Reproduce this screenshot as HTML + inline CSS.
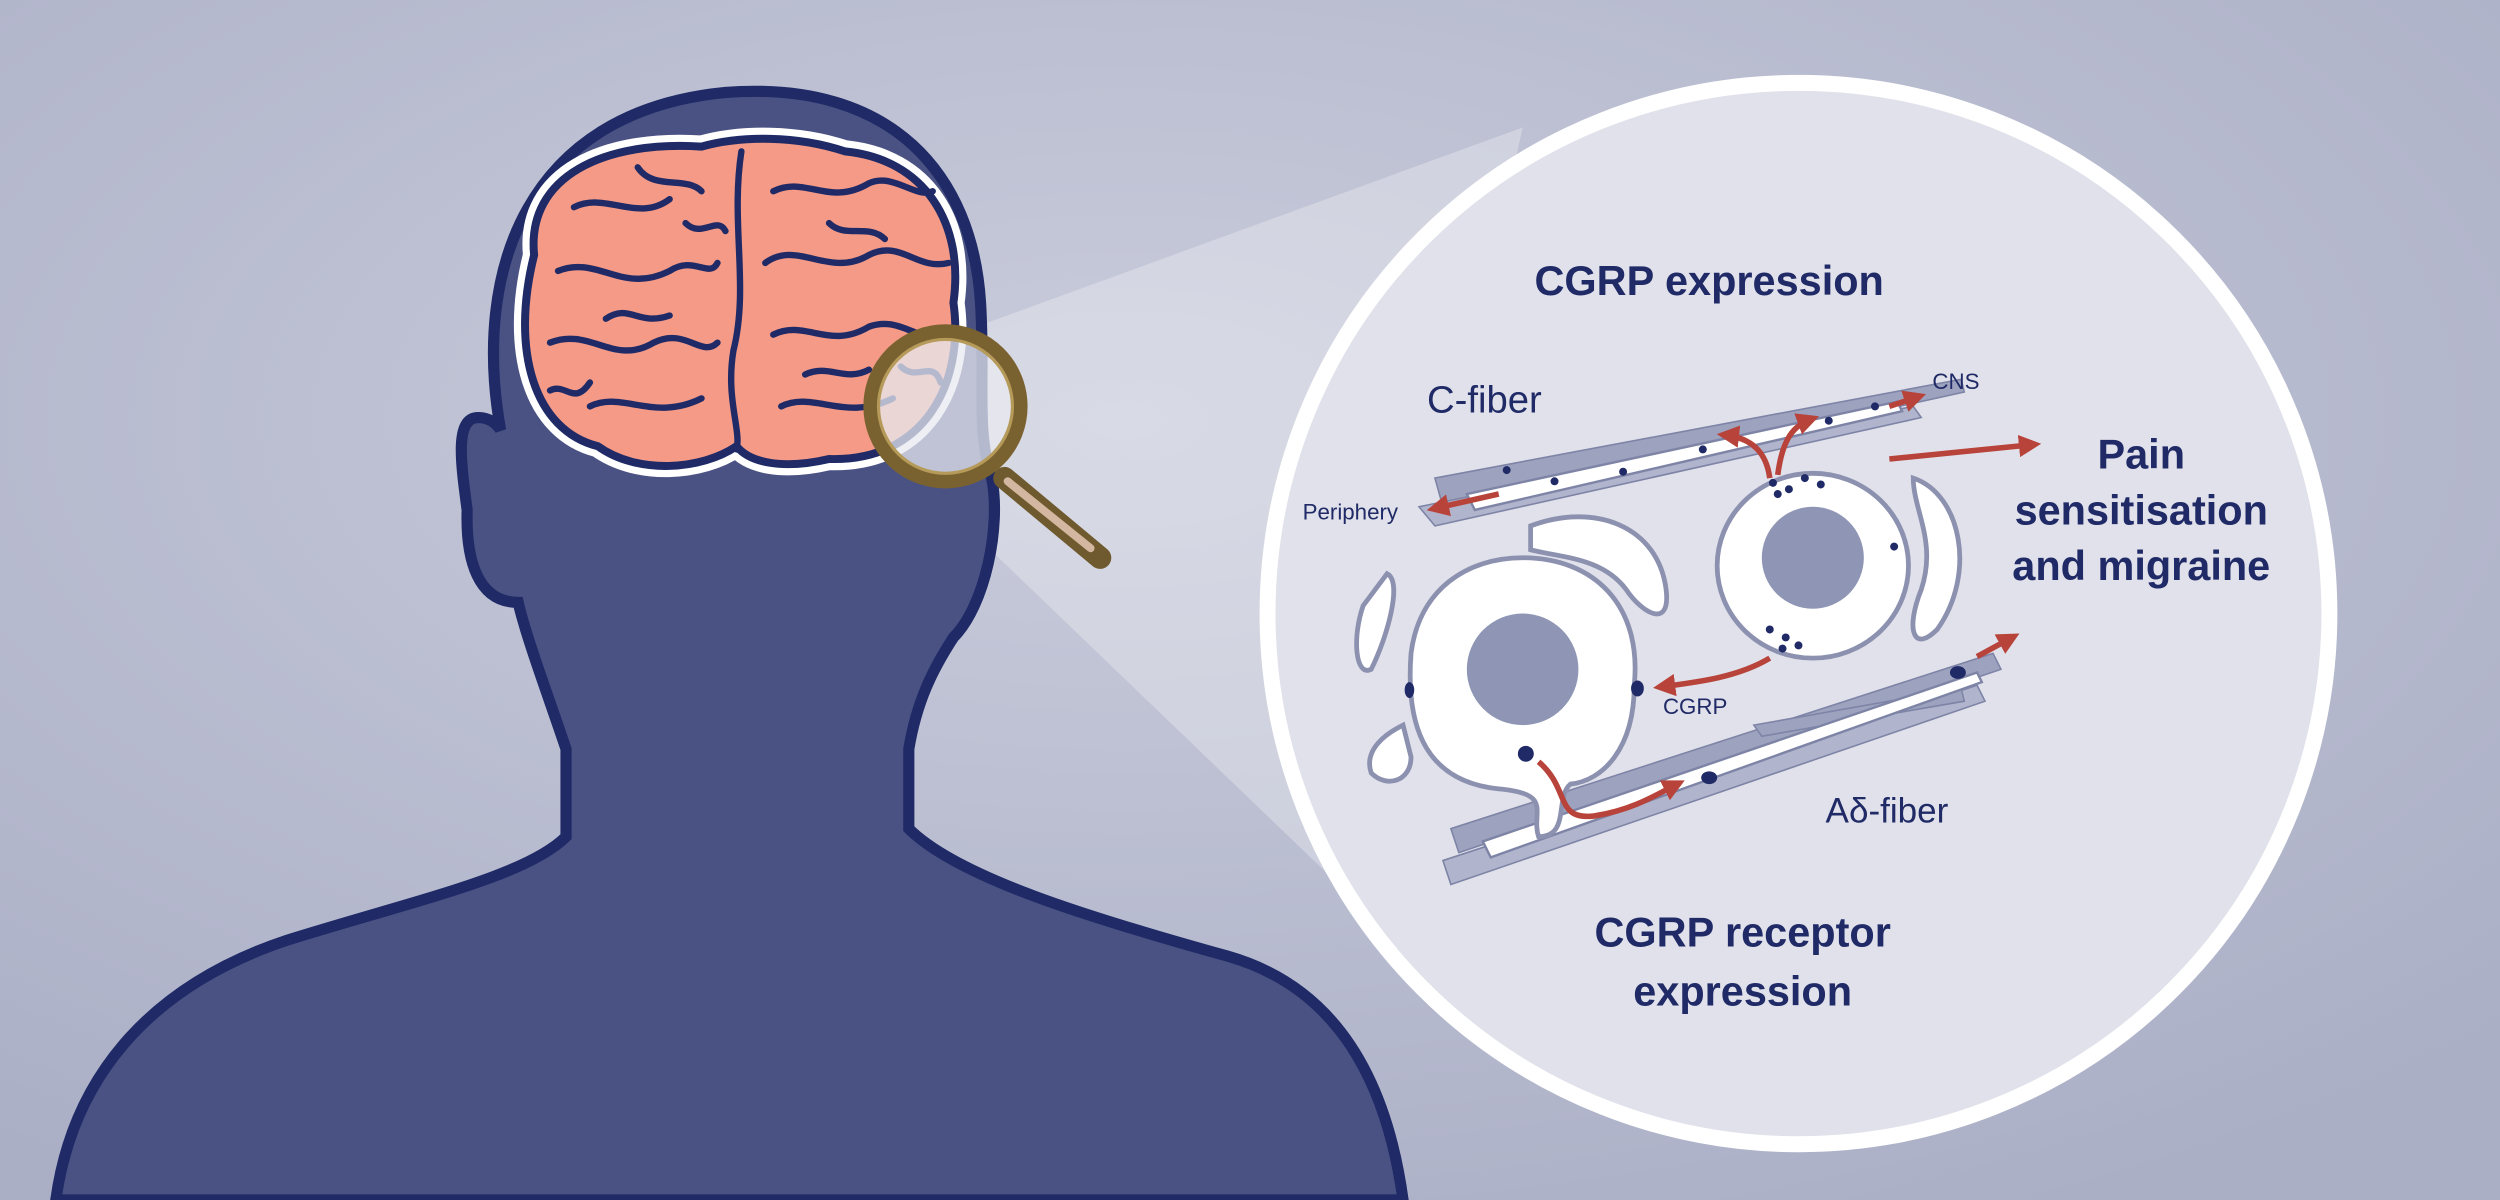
<!DOCTYPE html>
<html><head><meta charset="utf-8"><style>
html,body{margin:0;padding:0;width:2500px;height:1200px;overflow:hidden}
svg{display:block}
text{font-family:"Liberation Sans",Arial,sans-serif;fill:#1f2a66}
</style></head><body>
<svg width="2500" height="1200" viewBox="0 0 1568 753" preserveAspectRatio="none">
<defs>
<radialGradient id="bg" cx="0.45" cy="0.35" r="0.75">
<stop offset="0" stop-color="#c9ccdb"/><stop offset="1" stop-color="#abafc6"/>
</radialGradient>
<marker id="ar" markerWidth="4" markerHeight="4" refX="2.5" refY="2" orient="auto" markerUnits="strokeWidth">
<path d="M0,0 L4,2 L0,4 z" fill="#b8433a"/>
</marker>
</defs>
<rect width="1568" height="753" fill="url(#bg)"/>
<!-- light cone -->
<polygon points="585,215 955,80 850,565 590,315" fill="#ffffff" opacity="0.28"/>
<!-- head -->
<path d="M35,753 C45,680 90,620 180,590 C260,565 330,550 355,525 L355,470 C345,440 330,400 325,378 C300,378 292,352 293,320 C289,290 285,262 300,262 C310,262 314,270 314,270 C296,170 330,70 455,58 C560,50 610,110 615,190 C618,240 612,270 622,300 C628,330 618,380 598,400 C585,420 575,440 570,470 L570,520 C600,550 680,575 770,600 C840,620 870,680 880,753 Z" fill="#4a5283" stroke="#1f2a66" stroke-width="7"/>
<!-- brain -->
<g>
<path d="M335,160 C330,110 380,88 440,92 C465,85 500,85 530,95 C580,100 605,140 598,190 C605,240 580,290 520,288 C490,295 470,290 462,280 C440,295 400,298 375,280 C335,270 320,220 335,160 Z" fill="#f49a86" stroke="#fff" stroke-width="14"/>
<path d="M335,160 C330,110 380,88 440,92 C465,85 500,85 530,95 C580,100 605,140 598,190 C605,240 580,290 520,288 C490,295 470,290 462,280 C440,295 400,298 375,280 C335,270 320,220 335,160 Z" fill="#f49a86" stroke="#1f2a66" stroke-width="5"/>
<g fill="none" stroke="#1f2a66" stroke-width="4" stroke-linecap="round">
<path d="M465,95 C458,140 470,180 460,220 C455,250 465,270 462,282"/>
<path d="M360,130 C380,120 400,140 420,125 M350,170 C375,160 390,185 420,170 C435,160 445,175 450,165"/>
<path d="M345,215 C370,205 385,230 410,215 C430,205 440,225 450,215 M370,255 C390,245 410,265 440,250"/>
<path d="M400,105 C410,120 430,110 440,120 M380,200 C395,190 400,205 420,198"/>
<path d="M485,120 C505,110 520,130 545,115 C560,108 575,125 585,120 M480,165 C500,150 520,175 545,160 C565,150 575,170 595,165"/>
<path d="M485,210 C505,200 520,220 545,205 C565,198 575,215 590,210 M490,255 C510,245 530,265 560,250"/>
<path d="M520,140 C530,150 545,140 555,150 M505,235 C520,228 530,240 545,232"/>
<path d="M345,245 C355,240 360,255 370,240 M430,140 C440,150 450,135 455,145 M565,230 C575,240 585,225 590,240"/>
</g>
</g>
<!-- magnifier -->
<line x1="630" y1="300" x2="690" y2="350" stroke="#6e5a2e" stroke-width="14" stroke-linecap="round"/>
<line x1="632" y1="302" x2="684" y2="344" stroke="#d4b7a0" stroke-width="5" stroke-linecap="round"/>
<circle cx="593" cy="255" r="47" fill="#e8e9f0" fill-opacity="0.75" stroke="#7a6230" stroke-width="9"/>
<circle cx="593" cy="255" r="42" fill="none" stroke="#b59a5a" stroke-width="2"/>
<!-- big circle -->
<circle cx="1128" cy="385" r="333" fill="#e0e1ea" stroke="#fff" stroke-width="10"/>
<!-- fibers -->
<g fill="#9da2bf" stroke="#7e84a6" stroke-width="1">
<path d="M900,300 L1230,238 L1232,246 L905,318 Z"/>
<path d="M890,318 L1200,255 L1205,262 L900,330 Z" fill="#b0b4cc"/>
<path d="M910,520 L1250,410 L1255,420 L915,535 Z"/>
<path d="M905,540 L1240,430 L1245,440 L910,555 Z" fill="#b0b4cc"/>
<path d="M1100,455 L1230,432 L1232,440 L1105,462 Z"/>
</g>
<g fill="#fff" stroke="#7e84a6" stroke-width="1.5">
<path d="M920,310 L1190,252 L1193,258 L925,320 Z"/>
<path d="M930,528 L1240,422 L1243,428 L935,538 Z"/>
</g>
<!-- glia -->
<g fill="#fff" stroke="#8c91b0" stroke-width="3">
<path d="M960,330 C1000,315 1040,330 1045,370 C1048,395 1030,385 1020,370 C1005,350 980,350 960,345 Z"/>
<path d="M1200,300 C1230,310 1240,360 1215,395 C1200,410 1195,395 1205,370 C1215,340 1200,320 1200,300 Z"/>
<path d="M870,360 C880,365 870,400 860,420 C850,425 848,400 855,380 Z"/>
<path d="M880,455 C870,460 855,470 860,485 C870,495 885,490 885,475 Z"/>
</g>
<!-- cells -->
<ellipse cx="1137" cy="355" rx="60" ry="58" fill="#fff" stroke="#8c91b0" stroke-width="3"/>
<circle cx="1137" cy="350" r="32" fill="#8f96b5"/>
<path d="M955,350 C1000,350 1030,380 1025,430 C1025,470 1005,490 985,492 C975,500 985,525 965,525 C960,510 975,498 940,495 C890,490 882,450 885,410 C890,370 920,350 955,350 Z" fill="#fff" stroke="#8c91b0" stroke-width="3"/>
<circle cx="955" cy="420" r="35" fill="#8f96b5"/>
<!-- dots -->
<g fill="#1f2a66">
<circle cx="1112" cy="303" r="2.5"/><circle cx="1122" cy="307" r="2.5"/><circle cx="1132" cy="300" r="2.5"/><circle cx="1142" cy="304" r="2.5"/><circle cx="1115" cy="310" r="2.5"/>
<circle cx="1110" cy="395" r="2.5"/><circle cx="1120" cy="400" r="2.5"/><circle cx="1128" cy="405" r="2.5"/><circle cx="1118" cy="407" r="2.5"/><circle cx="1188" cy="343" r="2.5"/>
<circle cx="945" cy="295" r="2.5"/><circle cx="975" cy="302" r="2.5"/><circle cx="1018" cy="296" r="2.5"/><circle cx="1068" cy="282" r="2.5"/><circle cx="1147" cy="264" r="2.5"/><circle cx="1176" cy="255" r="2.5"/>
<ellipse cx="884" cy="433" rx="3" ry="5"/><ellipse cx="1027" cy="432" rx="4" ry="5"/><ellipse cx="957" cy="473" rx="5" ry="5"/><ellipse cx="1228" cy="422" rx="5" ry="4"/><ellipse cx="1072" cy="488" rx="5" ry="4"/>
</g>
<!-- arrows -->
<g fill="none" stroke="#b8433a" stroke-width="3.5" marker-end="url(#ar)">
<path d="M940,310 L900,319"/>
<path d="M1110,300 C1108,285 1100,275 1082,273"/>
<path d="M1115,298 C1118,275 1125,267 1136,263"/>
<path d="M1185,255 L1203,249"/>
<path d="M1185,288 L1275,279"/>
<path d="M1110,413 C1090,425 1065,428 1042,431"/>
<path d="M965,478 C985,495 975,515 1000,512 C1025,508 1040,498 1052,492"/>
<path d="M1240,412 L1262,400"/>
</g>
<!-- texts -->
<text x="1072" y="185" font-size="26" font-weight="bold" text-anchor="middle">CGRP expression</text>
<text x="895" y="259" font-size="24">C-fiber</text>
<text x="1212" y="244" font-size="14">CNS</text>
<text x="817" y="326" font-size="14">Periphery</text>
<text x="1343" y="294" font-size="26" font-weight="bold" text-anchor="middle">Pain</text>
<text x="1343" y="329" font-size="26" font-weight="bold" text-anchor="middle">sensitisation</text>
<text x="1343" y="364" font-size="26" font-weight="bold" text-anchor="middle">and migraine</text>
<text x="1043" y="448" font-size="14">CGRP</text>
<text x="1145" y="516" font-size="22">Aδ-fiber</text>
<text x="1093" y="594" font-size="26" font-weight="bold" text-anchor="middle">CGRP receptor</text>
<text x="1093" y="631" font-size="26" font-weight="bold" text-anchor="middle">expression</text>
</svg>
</body></html>
